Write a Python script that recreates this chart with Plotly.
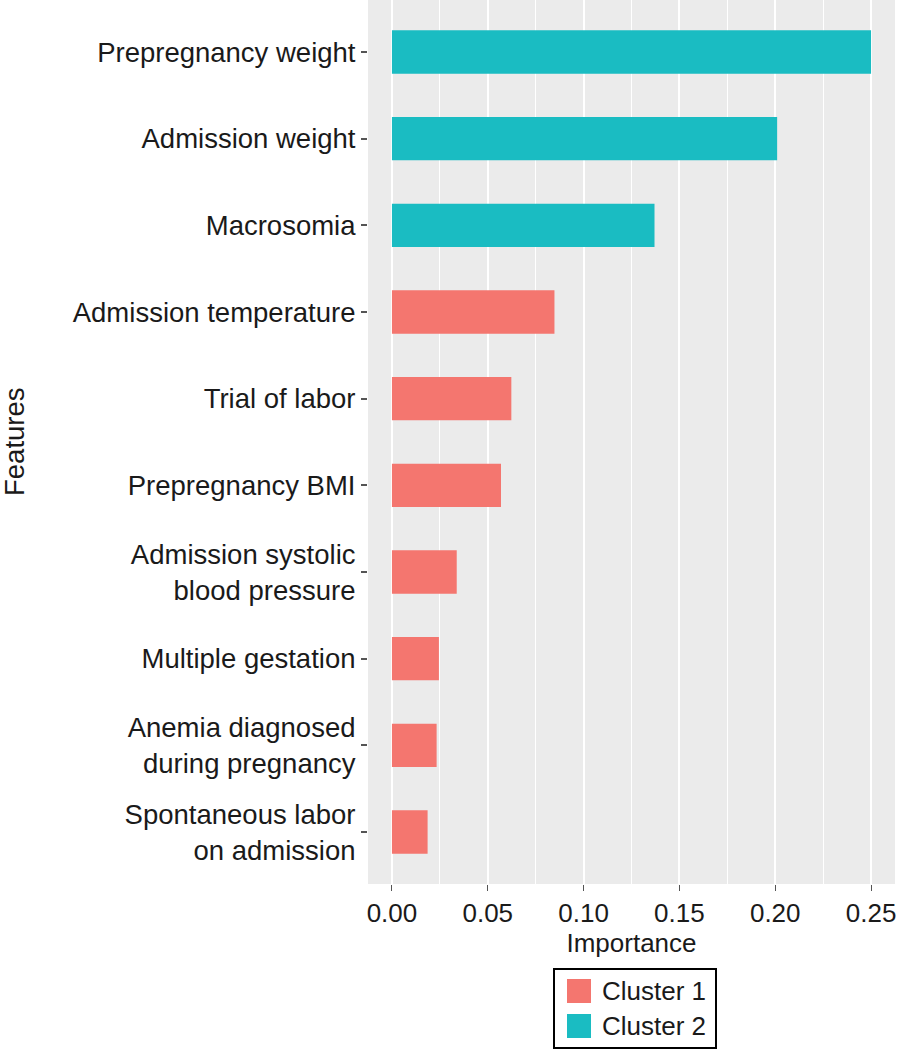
import plotly.graph_objects as go

features = [
    "Prepregnancy weight",
    "Admission weight",
    "Macrosomia",
    "Admission temperature",
    "Trial of labor",
    "Prepregnancy BMI",
    "Admission systolic<br>blood pressure",
    "Multiple gestation",
    "Anemia diagnosed<br>during pregnancy",
    "Spontaneous labor<br>on admission",
]
importance = [0.250, 0.201, 0.137, 0.0848, 0.0623, 0.0569, 0.0338, 0.0245, 0.0233, 0.0186]
cluster = ["Cluster 2", "Cluster 2", "Cluster 2", "Cluster 1", "Cluster 1",
           "Cluster 1", "Cluster 1", "Cluster 1", "Cluster 1", "Cluster 1"]
cluster_names = ["Cluster 1", "Cluster 2"]
cluster_colors = {"Cluster 1": "#F4766F", "Cluster 2": "#1ABCC2"}
x_ticks = [0.00, 0.05, 0.10, 0.15, 0.20, 0.25]
x_tick_labels = ["0.00", "0.05", "0.10", "0.15", "0.20", "0.25"]

FONT = "Liberation Sans, Arial, sans-serif"
TXT = "#1a1a1a"

# page layout (pixels)
W, H = 900, 1050
ML, MR, MT, MB = 368, 5, 0, 166
PW, PH = W - ML - MR, H - MT - MB


def px_x(p):
    return (p - ML) / PW


def px_y(p):
    return (MT + PH - p) / PH


fig = go.Figure()
for cname in cluster_names:
    xs = [v for v, c in zip(importance, cluster) if c == cname]
    ys = [f for f, c in zip(features, cluster) if c == cname]
    fig.add_trace(go.Bar(
        x=xs, y=ys, orientation="h", width=0.5,
        marker=dict(color=cluster_colors[cname], line=dict(width=0)),
        name=cname, showlegend=False,
    ))

# Legend (ggplot-style boxed key with large square swatches)
shapes = [dict(
    type="rect", xref="paper", yref="paper",
    x0=px_x(554), x1=px_x(716), y0=px_y(1048), y1=px_y(969),
    line=dict(color="black", width=2), fillcolor="white", layer="above",
)]
annotations = [dict(
    text="Features", xref="paper", yref="paper",
    x=px_x(14), y=0.5, xanchor="center", yanchor="middle",
    textangle=-90, showarrow=False,
    font=dict(family=FONT, size=27.5, color=TXT),
)]
for i, cname in enumerate(cluster_names):
    top = 979 + i * 35
    shapes.append(dict(
        type="rect", xref="paper", yref="paper",
        x0=px_x(567), x1=px_x(591), y0=px_y(top + 24), y1=px_y(top),
        line=dict(width=0), fillcolor=cluster_colors[cname], layer="above",
    ))
    annotations.append(dict(
        text=cname, xref="paper", yref="paper",
        x=px_x(600), y=px_y(top + 12), xanchor="left", yanchor="middle",
        showarrow=False, font=dict(family=FONT, size=26, color=TXT),
    ))

fig.update_layout(
    width=W, height=H,
    margin=dict(l=ML, r=MR, t=MT, b=MB, autoexpand=False),
    paper_bgcolor="white",
    plot_bgcolor="#EBEBEB",
    barmode="overlay",
    font=dict(family=FONT, size=26, color=TXT),
    showlegend=False,
    shapes=shapes,
    annotations=annotations,
)

fig.update_xaxes(
    range=[-0.0125, 0.2625],
    tickvals=x_ticks, ticktext=x_tick_labels,
    ticks="outside", ticklen=6, tickwidth=1.2, tickcolor="#555555",
    showgrid=True, gridcolor="white", gridwidth=2,
    minor=dict(dtick=0.025, tick0=0.025, showgrid=True, gridcolor="white", gridwidth=1.2),
    zeroline=False, showline=False,
    tickfont=dict(family=FONT, size=26, color=TXT),
    title=dict(text="Importance", standoff=6, font=dict(family=FONT, size=26, color=TXT)),
    automargin=False,
    fixedrange=True,
)
fig.update_yaxes(
    type="category",
    categoryorder="array", categoryarray=features,
    range=[9.6, -0.6],
    ticks="outside", ticklen=6, tickwidth=1.5, tickcolor="#555555",
    showgrid=False, zeroline=False, showline=False,
    tickfont=dict(family=FONT, size=27.5, color=TXT),
    ticklabelstandoff=0,
    automargin=False,
    fixedrange=True,
)

fig.write_html(
    "out.html",
    config={"displayModeBar": False},
    post_script="document.body.style.margin='0';document.body.style.overflow='hidden';",
)
